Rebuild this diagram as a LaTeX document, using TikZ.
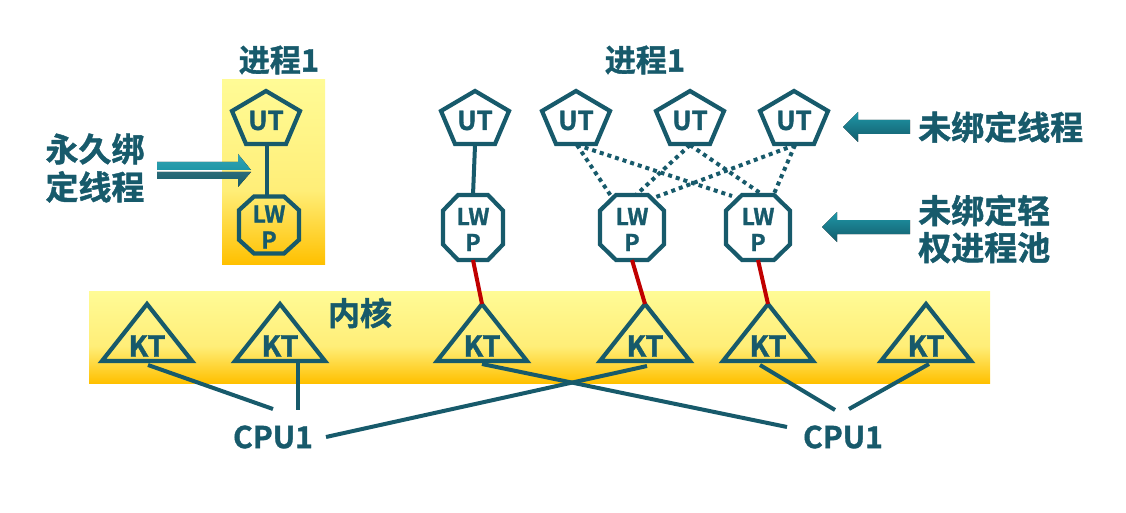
\documentclass[tikz,border=0pt]{standalone}
\usepackage{fontspec}
\setmainfont{Noto Sans CJK SC}[BoldFont={Noto Sans CJK SC Bold},BoldFeatures={FakeBold=1.3}]
\usetikzlibrary{calc}
\definecolor{tealc}{HTML}{175A6B}
\definecolor{redc}{HTML}{C00000}
\definecolor{ytop}{HTML}{FFFB96}
\definecolor{ymid}{HTML}{FFEE78}
\definecolor{ybot}{HTML}{FFC000}
\definecolor{arrL}{HTML}{1F97A8}
\definecolor{arrD}{HTML}{135B6A}
\pgfdeclareverticalshading{gold}{100bp}{color(0bp)=(ybot); color(25bp)=(ybot); color(45bp)=(ymid); color(75bp)=(ytop); color(100bp)=(ytop)}
\tikzset{
  shp/.style={draw=tealc, line width=4.2pt, line join=miter},
  lbl/.style={text=tealc, inner sep=0pt},
  conn/.style={draw=tealc, line width=4pt},
  dotl/.style={draw=tealc, line width=4pt, dash pattern=on 4pt off 4pt},
  redl/.style={draw=redc, line width=4pt},
  goldbox/.style={shading=gold},
  arrowshape/.style={top color=arrL, bottom color=arrD, draw=none},
}
\newcommand\fsz[1]{\bfseries\fontsize{#1}{#1}\selectfont}
\newcommand\UTshape[3]{%
  \draw[shp] (#2,#3-26.5) -- (#2+34,#3-6.5) -- (#2+20,#3+26.5) -- (#2-20,#3+26.5) -- (#2-34,#3-6.5) -- cycle;
  \node[lbl,font=\fsz{26}] (#1) at (#2,#3+3) {UT};
  \coordinate (#1-b) at (#2,#3+28);
}
\newcommand\LWPshape[5]{%
  \draw[shp] (#2-0.5*#4,#3-#5) -- (#2+0.5*#4,#3-#5) -- (#2+#4,#3-0.52*#5) -- (#2+#4,#3+0.52*#5) -- (#2+0.5*#4,#3+#5) -- (#2-0.5*#4,#3+#5) -- (#2-#4,#3+0.52*#5) -- (#2-#4,#3-0.52*#5) -- cycle;
  \node[lbl,align=center,font=\bfseries\fontsize{23}{26}\selectfont] (#1) at (#2,#3+2) {LW\\P};
  \coordinate (#1-t) at (#2,#3-#5);
  \coordinate (#1-b) at (#2,#3+#5);
}
\newcommand\KTshape[2]{%
  \draw[shp] (#2,304) -- (#2+45,361) -- (#2-45,361) -- cycle;
  \node[lbl,font=\fsz{29}] (#1) at (#2,346) {KT};
  \coordinate (#1-t) at (#2,304);
}
\begin{document}
\begin{tikzpicture}[x=1pt,y=-1pt]
\useasboundingbox (0,0) rectangle (1126,513);
% background boxes
\path[goldbox] (222,80) rectangle (325,264);
\path[goldbox] (89,291) rectangle (990,383);
% titles
\node[lbl,font=\fsz{31}] (p1) at (279,60) {进程1};
\node[lbl,font=\fsz{31}] (p2) at (645,60) {进程1};
\node[lbl,font=\bfseries\fontsize{33}{38}\selectfont,align=center] (perm) at (95,168) {永久绑\\定线程};
\node[lbl,font=\fsz{32}] (kern) at (360,313) {内核};
\node[lbl,font=\fsz{33},anchor=west] (unb) at (918,127) {未绑定线程};
\node[lbl,font=\bfseries\fontsize{33}{37}\selectfont,align=left,anchor=west] (pool) at (918,229) {未绑定轻\\权进程池};
\node[lbl,font=\fsz{30}] (cpuL) at (273,437) {CPU1};
\node[lbl,font=\fsz{30}] (cpuR) at (843,437) {CPU1};
% arrows
\fill[top color=arrL!90!white, bottom color=arrL] (157,162) -- (238,162) -- (238,154) -- (251,170) -- (157,170) -- cycle;
\fill[top color=arrD!90!white, bottom color=arrD] (157,172) -- (251,172) -- (238,187) -- (238,179) -- (157,179) -- cycle;
\fill[arrowshape] (843,127) -- (858,112) -- (858,120) -- (910,120) -- (910,134) -- (858,134) -- (858,142) -- cycle;
\fill[arrowshape] (822,227) -- (837,212) -- (837,220) -- (910,220) -- (910,234) -- (837,234) -- (837,242) -- cycle;
% left process
\UTshape{ut0}{266}{117.5}
\LWPshape{lw0}{269}{225}{30}{28.5}
\draw[conn] (267,146) coordinate (ut0-c) -- (267,196) coordinate (lw0-c);
% right process
\UTshape{ut1}{475}{117.5}
\UTshape{ut2}{576}{117.5}
\UTshape{ut3}{690}{117.5}
\UTshape{ut4}{794}{117.5}
\LWPshape{lw1}{473}{227.5}{30}{32.5}
\LWPshape{lw2}{632}{227.5}{32}{32.5}
\LWPshape{lw3}{758}{227.5}{32}{32.5}
\draw[conn] (ut1-b) -- (lw1-t);
\coordinate (d2a) at (577,145); \coordinate (d3a) at (690,145); \coordinate (d4a) at (795,145);
\coordinate (l2a) at (611,196); \coordinate (l2b) at (636,195); \coordinate (l2c) at (656,197);
\coordinate (l3a) at (732,196); \coordinate (l3b) at (763,195); \coordinate (l3c) at (773,196);
\draw[dotl] (d2a) -- (l2a);
\draw[dotl] (d2a) -- (l3a);
\draw[dotl] (d3a) -- (l2b);
\draw[dotl] (d3a) -- (l3b);
\draw[dotl] (d4a) -- (l2c);
\draw[dotl] (d4a) -- (l3c);
% kernel threads
\KTshape{kt1}{147}
\KTshape{kt2}{280}
\KTshape{kt3}{482}
\KTshape{kt4}{645}
\KTshape{kt5}{768}
\KTshape{kt6}{926}
\draw[redl] (lw1-b) -- (kt3-t);
\draw[redl] (lw2-b) -- (kt4-t);
\draw[redl] (lw3-b) -- (kt5-t);
% CPU connections
\coordinate (c1) at (148,365); \coordinate (c1e) at (273,409);
\coordinate (c2) at (298,362); \coordinate (c2e) at (298,410);
\coordinate (c3) at (482,364); \coordinate (c3e) at (787,427);
\coordinate (c4) at (647,366); \coordinate (c4e) at (326,437);
\coordinate (c5) at (760,365); \coordinate (c5e) at (835,410);
\coordinate (c6) at (929,364); \coordinate (c6e) at (849,409);
\draw[conn] (c1) -- (c1e);
\draw[conn] (c2) -- (c2e);
\draw[conn] (c3) -- (c3e);
\draw[conn] (c4) -- (c4e);
\draw[conn] (c5) -- (c5e);
\draw[conn] (c6) -- (c6e);
\end{tikzpicture}
\end{document}
